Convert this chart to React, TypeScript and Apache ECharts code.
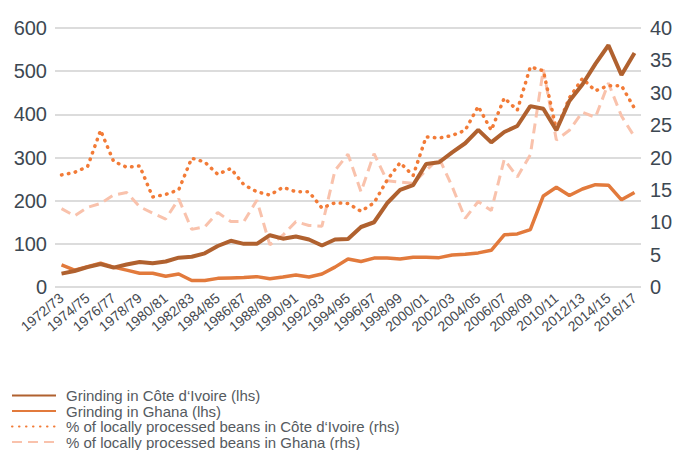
import React, { useEffect, useRef } from "react";
import * as echarts from "echarts";

const years = [
  "1972/73","1973/74","1974/75","1975/76","1976/77","1977/78","1978/79","1979/80","1980/81","1981/82",
  "1982/83","1983/84","1984/85","1985/86","1986/87","1987/88","1988/89","1989/90","1990/91","1991/92",
  "1992/93","1993/94","1994/95","1995/96","1996/97","1997/98","1998/99","1999/00","2000/01","2001/02",
  "2002/03","2003/04","2004/05","2005/06","2006/07","2007/08","2008/09","2009/10","2010/11","2011/12",
  "2012/13","2013/14","2014/15","2015/16","2016/17",
];

const grindingCI = [
  31, 37, 46, 53, 45, 52, 58, 55, 59, 68,
  70, 78, 95, 107, 100, 100, 120, 112, 117, 110,
  96, 110, 111, 139, 150, 194, 225, 236, 285, 289,
  312, 333, 364, 335, 359, 373, 419, 413, 363, 431,
  469, 517, 560, 491, 542,
];

const grindingGhana = [
  51, 39, 47, 55, 46, 39, 32, 32, 25, 30,
  15, 15, 20, 21, 22, 24, 19, 23, 28, 23,
  30, 46, 65, 59, 67, 67, 65, 69, 69, 68,
  74, 76, 79, 85, 121, 123, 133, 211, 231, 212,
  227, 237, 236, 202, 219,
];

const pctCI = [
  17.3, 17.7, 18.6, 24.2, 19.4, 18.5, 18.7, 13.9, 14.3, 15,
  19.9, 19.3, 17.4, 18.3, 15.8, 14.7, 14.2, 15.4, 14.7, 14.7,
  12.2, 13, 12.9, 11.7, 13, 16.5, 19.2, 17.2, 23.2, 23,
  23.4, 24.2, 27.9, 24.2, 29.2, 27.3, 34, 33.4, 24.3, 29.2,
  32.2, 30.3, 31.1, 31.1, 27.6,
];

const pctGhana = [
  12.1, 11, 12.3, 12.9, 14.2, 14.6, 12.4, 11.4, 10.5, 13.6,
  8.9, 9.3, 11.5, 10.1, 10.1, 13.4, 6.5, 8, 10.1, 9.5,
  9.4, 18, 20.5, 14.7, 20.6, 16.4, 16.2, 16, 18, 19.9,
  15.5, 10.6, 13.2, 11.8, 19.7, 17, 20.4, 33.6, 22.7, 24.2,
  27, 26.2, 31.5, 26.4, 23.2,
];

const seriesNames = [
  "Grinding in Côte d‘Ivoire (lhs)",
  "Grinding in Ghana (lhs)",
  "% of locally processed beans in Côte d‘Ivoire (rhs)",
  "% of locally processed beans in Ghana (rhs)",
];

const FONT = "'Liberation Sans', Arial, Helvetica, sans-serif";

export default function App() {
  const ref = useRef<HTMLDivElement>(null);
  useEffect(() => {
    if (!ref.current) return;
    const chart = echarts.init(ref.current, undefined, { renderer: "svg" });
    chart.setOption({
      animation: false,
      backgroundColor: "#ffffff",
      textStyle: { fontFamily: FONT },
      grid: { left: 55, right: 35, top: 28, bottom: 163, containLabel: false },
      legend: {
        orient: "vertical",
        left: 11,
        top: 388,
        width: 600,
        height: 80,
        padding: 0,
        itemWidth: 44,
        itemHeight: 10,
        itemGap: 0.5,
        itemStyle: { opacity: 0 },
        textStyle: {
          fontSize: 15,
          color: "#555a60",
          fontFamily: FONT,
          lineHeight: 15,
          padding: [0, 0, 0, 5],
        },
        data: seriesNames,
      },
      xAxis: {
        type: "category",
        data: years,
        boundaryGap: true,
        axisLine: { show: false },
        axisTick: { show: false },
        axisLabel: {
          interval: 1,
          rotate: 40,
          fontSize: 14,
          color: "#45494f",
          margin: 9,
          fontFamily: FONT,
        },
      },
      yAxis: [
        {
          type: "value",
          min: 0,
          max: 600,
          interval: 100,
          axisLine: { show: false },
          axisTick: { show: false },
          axisLabel: { fontSize: 20, color: "#3d4852", margin: 8, fontFamily: FONT },
          splitLine: { lineStyle: { color: "#d0d0d0", width: 1.5 } },
        },
        {
          type: "value",
          min: 0,
          max: 40,
          interval: 5,
          position: "right",
          axisLine: { show: false },
          axisTick: { show: false },
          axisLabel: { fontSize: 20, color: "#3d4852", margin: 9, fontFamily: FONT },
          splitLine: { show: false },
        },
      ],
      series: [
        {
          name: seriesNames[3],
          type: "line",
          yAxisIndex: 1,
          data: pctGhana,
          symbol: "none",
          z: 2,
          lineStyle: { color: "#f9c2ac", width: 3, type: [10, 6] },
          itemStyle: { color: "#f9c2ac" },
        },
        {
          name: seriesNames[2],
          type: "line",
          yAxisIndex: 1,
          data: pctCI,
          symbol: "none",
          z: 3,
          lineStyle: { color: "#f27b37", width: 3.5, type: [0.5, 6.5], cap: "round" },
          itemStyle: { color: "#f27b37" },
        },
        {
          name: seriesNames[1],
          type: "line",
          yAxisIndex: 0,
          data: grindingGhana,
          symbol: "none",
          z: 4,
          lineStyle: { color: "#e27a3c", width: 3.5 },
          itemStyle: { color: "#e27a3c" },
        },
        {
          name: seriesNames[0],
          type: "line",
          yAxisIndex: 0,
          data: grindingCI,
          symbol: "none",
          z: 5,
          lineStyle: { color: "#b0612f", width: 4 },
          itemStyle: { color: "#b0612f" },
        },
      ],
    });
    return () => chart.dispose();
  }, []);
  return <div ref={ref} style={{ width: 676, height: 450, position: "absolute", left: 0, top: 0 }} />;
}
